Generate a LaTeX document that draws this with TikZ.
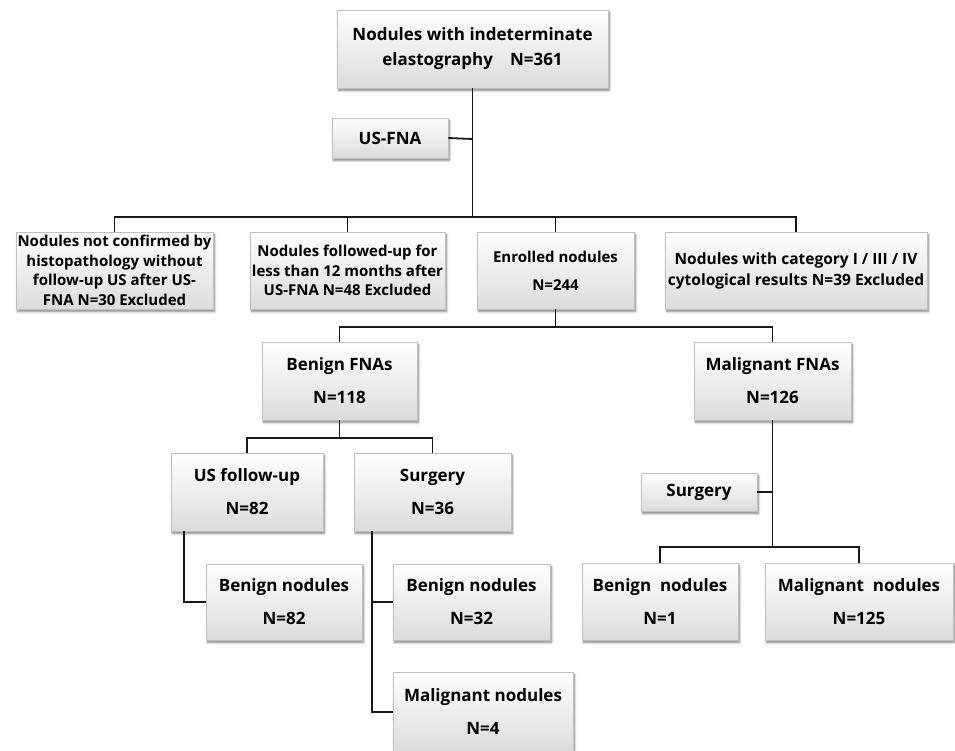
\documentclass[tikz,border=0pt]{standalone}
\usepackage{fontspec}
\setmainfont{Open Sans}
\usetikzlibrary{shadows.blur}
\tikzset{
  box/.style={draw=black!25, line width=0.6pt, top color=white, bottom color=black!14,
    blur shadow={shadow xshift=1.5pt, shadow yshift=-2.5pt, shadow blur steps=6, shadow opacity=50},
    inner sep=0pt, align=center},
  big/.style={font=\bfseries\fontsize{17}{33}\selectfont},
  small/.style={font=\bfseries\fontsize{15}{19.5}\selectfont},
  conn/.style={line width=1.8pt, draw=black!90}
}
\begin{document}
\begin{tikzpicture}[x=1pt,y=-1pt]
\useasboundingbox (0,0) rectangle (955,750);
% boxes
\node[box, font=\bfseries\fontsize{17}{25}\selectfont, minimum width=271pt, minimum height=78pt] (top) at (472.5,49) {Nodules with indeterminate\\elastography\quad N=361};
\node[box, big, minimum width=116pt, minimum height=40pt] (usfna) at (390,138) {US-FNA};
\node[box, small, minimum width=197pt, minimum height=77pt] (ex1) at (114.5,270.5) {Nodules not confirmed by\\histopathology without\\follow-up US after US-\\FNA N=30 Excluded};
\node[box, small, minimum width=195pt, minimum height=77pt] (ex2) at (347.5,270.5) {Nodules followed-up for\\less than 12 months after\\US-FNA N=48 Excluded};
\node[box, font=\bfseries\fontsize{15}{28}\selectfont, minimum width=157pt, minimum height=77pt] (enr) at (555.5,270.5) {Enrolled nodules\\N=244};
\node[box, font=\bfseries\fontsize{15.5}{21}\selectfont, minimum width=262pt, minimum height=77pt] (ex4) at (796,270.5) {Nodules with category I / III / IV\\cytological results N=39 Excluded};
\node[box, big, minimum width=155pt, minimum height=78pt] (bfna) at (339.5,381) {Benign FNAs\\N=118};
\node[box, big, minimum width=157pt, minimum height=78pt] (mfna) at (772.5,381) {Malignant FNAs\\N=126};
\node[box, big, minimum width=152pt, minimum height=78pt] (usf) at (247,492) {US follow-up\\N=82};
\node[box, big, minimum width=157pt, minimum height=78pt] (surg) at (432.5,492) {Surgery\\N=36};
\node[box, big, minimum width=156pt, minimum height=76pt] (bn82) at (284,602) {Benign nodules\\N=82};
\node[box, big, minimum width=157pt, minimum height=76pt] (bn32) at (471.5,602) {Benign nodules\\N=32};
\node[box, big, minimum width=180pt, minimum height=80pt] (mn4) at (483,712) {Malignant nodules\\N=4};
\node[box, big, minimum width=116pt, minimum height=38pt] (surg2) at (699,492) {Surgery};
\node[box, big, minimum width=156pt, minimum height=77pt] (bn1) at (660,601.5) {Benign\ \ nodules\\N=1};
\node[box, big, minimum width=188pt, minimum height=77pt] (mn125) at (859,601.5) {Malignant\ \ nodules\\N=125};
% junction coordinates
\coordinate (j1) at (472.5,217);
\coordinate (jfna) at (472.5,139);
\coordinate (h1l) at (114.5,217);
\coordinate (h1b) at (347.5,217);
\coordinate (h1c) at (555.5,217);
\coordinate (h1r) at (796,217);
\coordinate (j2) at (555.5,327);
\coordinate (h2l) at (339.5,327);
\coordinate (h2r) at (772.5,327);
\coordinate (j3) at (339.5,438);
\coordinate (h3l) at (247,438);
\coordinate (h3r) at (432.5,438);
\coordinate (u1) at (184,531);
\coordinate (u2) at (184,602);
\coordinate (s1) at (372,531);
\coordinate (s2) at (372,602);
\coordinate (s3) at (372,712);
\coordinate (j4) at (772.5,547);
\coordinate (jsg) at (772.5,492);
\coordinate (h4l) at (660,547);
\coordinate (h4r) at (859,547);
% connectors
\draw[conn] (top.south) -- (j1);
\draw[conn] (usfna.east) -- (jfna);
\draw[conn, line cap=rect] (h1l) -- (h1r);
\draw[conn] (h1l) -- (ex1.north);
\draw[conn] (h1b) -- (ex2.north);
\draw[conn] (h1c) -- (enr.north);
\draw[conn] (h1r) -- (ex4.north);
\draw[conn] (enr.south) -- (j2);
\draw[conn, line cap=rect] (h2l) -- (h2r);
\draw[conn] (h2l) -- (bfna.north);
\draw[conn] (h2r) -- (mfna.north);
\draw[conn] (bfna.south) -- (j3);
\draw[conn, line cap=rect] (h3l) -- (h3r);
\draw[conn] (h3l) -- (usf.north);
\draw[conn] (h3r) -- (surg.north);
\draw[conn] (u1) -- (u2) -- (bn82.west);
\draw[conn] (s1) -- (s3) -- (mn4.west);
\draw[conn] (s2) -- (bn32.west);
\draw[conn] (mfna.south) -- (j4);
\draw[conn] (surg2.east) -- (jsg);
\draw[conn, line cap=rect] (h4l) -- (h4r);
\draw[conn] (h4l) -- (bn1.north);
\draw[conn] (h4r) -- (mn125.north);
\end{tikzpicture}
\end{document}
